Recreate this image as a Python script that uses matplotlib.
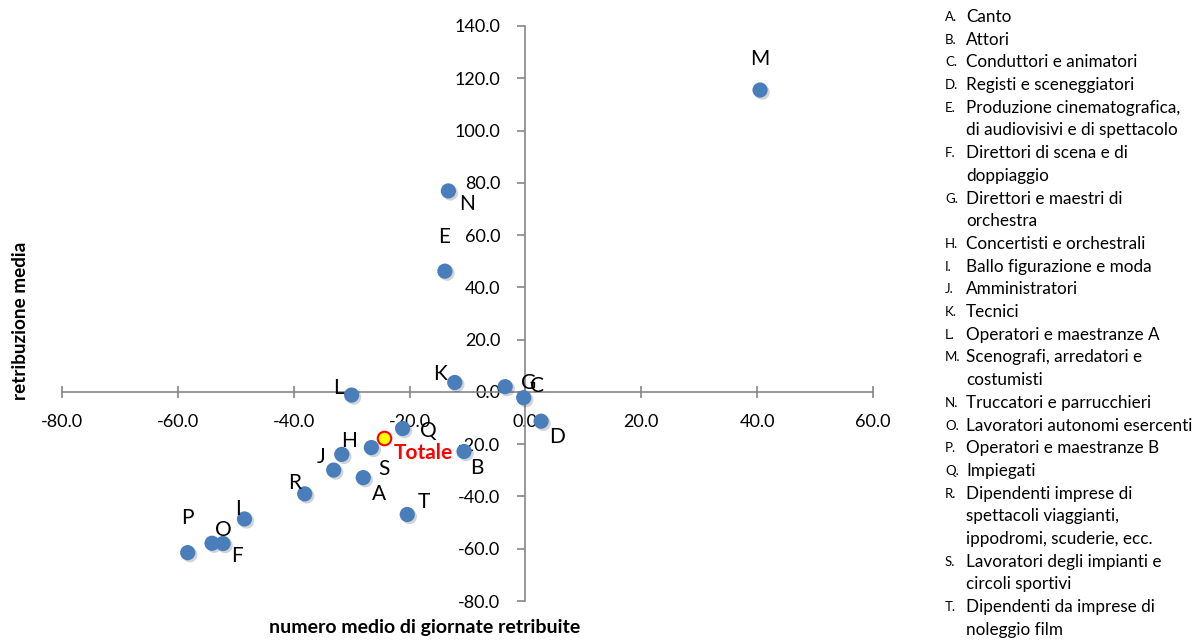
import matplotlib.pyplot as plt
import matplotlib.patheffects as pe
import numpy as np

plt.rcParams['font.family'] = ['Lato', 'DejaVu Sans']

# ---- data ----
codes = ['A', 'B', 'C', 'D', 'E', 'F', 'G', 'H', 'I', 'J',
         'K', 'L', 'M', 'N', 'O', 'P', 'Q', 'R', 'S', 'T']
giornate = [-28.0, -10.6, -0.3, 2.7, -13.9, -52.2, -3.5, -31.7, -48.5, -33.1,
            -12.2, -30.0, 40.5, -13.3, -54.1, -58.3, -21.2, -38.1, -26.6, -20.4]
retribuzione = [-32.8, -22.8, -2.2, -11.2, 46.2, -58.0, 2.0, -23.9, -48.6, -29.9,
                3.6, -1.2, 115.5, 76.9, -57.9, -61.5, -14.0, -39.0, -21.3, -46.9]
totale_x = -24.5
totale_y = -17.7

categorie = ['Canto', 'Attori', 'Conduttori e animatori', 'Registi e sceneggiatori',
             'Produzione cinematografica,\ndi audiovisivi e di spettacolo',
             'Direttori di scena e di\ndoppiaggio',
             'Direttori e maestri di\norchestra',
             'Concertisti e orchestrali', 'Ballo figurazione e moda',
             'Amministratori', 'Tecnici', 'Operatori e maestranze A',
             'Scenografi, arredatori e\ncostumisti',
             'Truccatori e parrucchieri', 'Lavoratori autonomi esercenti',
             'Operatori e maestranze B', 'Impiegati',
             'Dipendenti imprese di\nspettacoli viaggianti,\nippodromi, scuderie, ecc.',
             'Lavoratori degli impianti e\ncircoli sportivi',
             'Dipendenti da imprese di\nnoleggio film']

# label offsets in pixels (style only)
offs = {'A': (16, -16), 'B': (13, -16), 'C': (13, 12), 'D': (16, -16),
        'E': (-1, 34), 'F': (14, -12), 'G': (24, 4), 'H': (7, 13),
        'I': (-6, 10), 'J': (-13, 13), 'K': (-15, 8), 'L': (-13, 7),
        'M': (0, 31), 'N': (19, -13), 'O': (11, 13), 'P': (0, 35),
        'Q': (26, -2), 'R': (-10, 11), 'S': (13, -21), 'T': (17, 12)}

fig = plt.figure(figsize=(11.95, 6.42), dpi=100)
ax = fig.add_axes([62 / 1195, 1 - 601 / 642, (873 - 62) / 1195, 575 / 642])

shadow = [pe.SimplePatchShadow(offset=(1.5, -1.5), alpha=0.2), pe.Normal()]
ax.scatter(giornate, retribuzione, s=120, color='#4A7EBB', zorder=3,
           path_effects=shadow, linewidths=0)
ax.scatter([totale_x], [totale_y], s=95, color='#FFFF00', edgecolor='#FF0000',
           linewidths=1.5, zorder=4)

for c, x, y in zip(codes, giornate, retribuzione):
    ax.annotate(c, (x, y), xytext=offs[c], textcoords='offset pixels',
                ha='center', va='center', fontsize=15, color='black', zorder=5)
ax.annotate('Totale', (totale_x, totale_y), xytext=(10, -15),
            textcoords='offset pixels', ha='left', va='center',
            fontsize=15, fontweight='bold', color='#FF0000', zorder=5)

ax.set_xlim(-80, 60)
ax.set_ylim(-80, 140)
ax.set_xticks(np.arange(-80, 61, 20))
ax.set_yticks(np.arange(-80, 141, 20))
ax.xaxis.set_major_formatter(plt.FormatStrFormatter('%.1f'))
ax.yaxis.set_major_formatter(plt.FormatStrFormatter('%.1f'))
for s in ['left', 'bottom']:
    ax.spines[s].set_position(('data', 0))
    ax.spines[s].set_color('#868686')
    ax.spines[s].set_linewidth(1.2)
ax.spines['top'].set_visible(False)
ax.spines['right'].set_visible(False)
ax.tick_params(axis='x', direction='inout', length=8, width=1.2, color='#868686',
               labelsize=13, pad=12)
ax.tick_params(axis='y', direction='out', length=6, width=1.2, color='#868686',
               labelsize=13, pad=12)

fig.text(425 / 1195, 1 - 627 / 642, 'numero medio di giornate retribuite',
         ha='center', va='center', fontsize=14, fontweight='bold')
fig.text(21 / 1195, 1 - 321 / 642, 'retribuzione media', rotation=90,
         ha='center', va='center', fontsize=13.6, fontweight='bold')

# legend-like list on the right
y = 17
for c, cat in zip(codes, categorie):
    fig.text(945 / 1195, 1 - y / 642, c + '.', ha='left', va='center',
             fontsize=9.5)
    for line in cat.split('\n'):
        fig.text(966 / 1195, 1 - y / 642, line, ha='left', va='center',
                 fontsize=12.3)
        y += 22.7

fig.savefig('out.png', dpi=100)
